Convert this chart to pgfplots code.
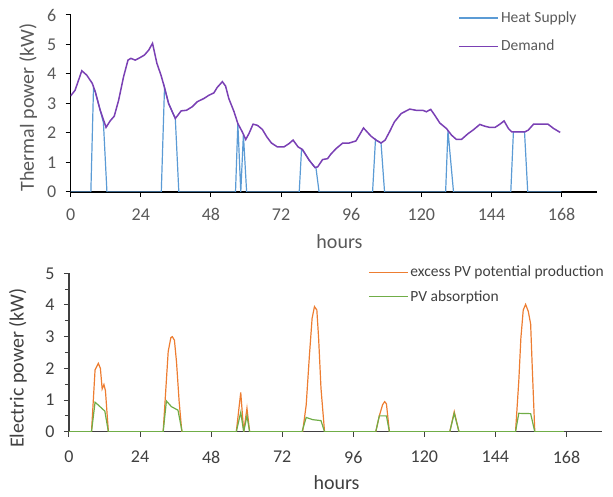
\documentclass[border=0pt]{standalone}
\usepackage{fontspec}
\setmainfont{Carlito}
\usepackage{pgfplots}
\pgfplotsset{compat=1.18}
\definecolor{heatblue}{RGB}{91,155,213}
\definecolor{dempurple}{RGB}{122,64,180}
\definecolor{pvorange}{RGB}{237,125,49}
\definecolor{pvgreen}{RGB}{112,173,71}
\definecolor{txtgray}{RGB}{89,89,89}
\definecolor{txtdark}{RGB}{64,64,64}
\pgfplotsset{
  common/.style={
    scale only axis, anchor=south west,
    axis lines*=left,
    tick align=outside,
    major tick length=5pt, minor tick length=4pt,
    /pgf/number format/assume math mode=true,
    legend cell align=left,
    legend image code/.code={\draw[##1] (0pt,0pt) -- (39pt,0pt);},
    yticklabel style={xshift=-6pt},
  }
}
\begin{document}
\begin{tikzpicture}[x=1pt,y=1pt]
\useasboundingbox (0,0) rectangle (613,496);
\begin{axis}[common,
  at={(70.7pt,304pt)},
  width=526pt, height=177pt,
  xmin=0, xmax=180, ymin=0, ymax=6,
  xtick={0,24,...,168}, ytick={0,1,...,6},
  axis line style={black, line width=1.2pt},
  tick style={black, line width=1pt},
  tick label style={font=\fontsize{18}{18}\selectfont, text=txtgray},
  xticklabel style={yshift=-8pt},
  xlabel={hours}, ylabel={Thermal power (kW)},
  label style={font=\fontsize{20}{20}\selectfont, text=txtgray},
  xlabel style={at={(axis description cs:0.511,-0.2825)}, anchor=center},
  ylabel style={at={(axis description cs:-0.081,0.477)}, anchor=center},
  legend style={at={(axis description cs:0.737,1.03)}, anchor=north west, draw=none, fill=none,
    font=\fontsize{15.5}{15.5}\selectfont, text=txtgray, row sep=12pt, inner sep=0pt},
]
\addplot[heatblue, line width=1.2pt] coordinates {
(0,0)(6.9,0)(7.8,3.52)(8.4,3.40)(10.1,2.77)(11.2,2.35)(12.4,0)
(31.0,0)(32.1,3.54)(33.5,3.0)(35.8,2.49)(37.0,0)
(56.4,0)(57.2,2.32)(58.2,0)(59.1,1.95)(60.2,0)
(78.2,0)(79.0,1.46)(79.3,1.44)(81.6,1.08)(83.6,0.83)(83.9,0.84)(85.0,0)
(103.3,0)(104.3,1.78)(104.5,1.76)(106.2,1.66)(107.4,0)
(128.3,0)(129.1,2.08)(131.0,0)
(150.6,0)(151.5,2.04)(153.2,2.04)(155.3,2.04)(156.4,0)(167.9,0)
};
\addlegendentry{Heat Supply}
\addplot[dempurple, line width=1.5pt] coordinates {
(0,3.26)(1.5,3.45)(3.8,4.11)(5.5,3.96)(7.4,3.68)(8.4,3.40)(10.1,2.77)(12.1,2.19)(13.5,2.41)(14.9,2.57)
(16.4,3.11)(18.1,3.91)(19.6,4.47)(20.6,4.53)(22.1,4.47)(23.8,4.56)(25.2,4.64)(26.7,4.81)(28.0,5.04)(29.5,4.36)
(30.9,3.96)(32.1,3.54)(33.5,3.0)(35.8,2.49)(37.8,2.75)(39.6,2.77)(41.6,2.89)(43.3,3.06)(45.6,3.17)(47.3,3.28)
(49.0,3.36)(50.1,3.54)(51.9,3.74)(53.0,3.59)(54.1,3.17)(55.9,2.72)(57.2,2.32)(58.7,2.04)(59.9,1.78)(61.0,1.98)
(62.4,2.30)(63.9,2.26)(65.6,2.12)(67.1,1.87)(68.7,1.66)(70.7,1.53)(73.0,1.53)(74.7,1.64)(76.1,1.76)(77.8,1.53)
(79.3,1.44)(81.6,1.08)(83.6,0.83)(84.5,0.85)(86.2,1.10)(87.9,1.13)(89.0,1.28)(90.8,1.47)(93.1,1.66)(95.3,1.66)
(97.6,1.73)(98.8,1.93)(100.2,2.17)(101.4,2.04)(102.8,1.89)(104.5,1.76)(106.2,1.66)(107.6,1.76)(109.1,2.04)(110.8,2.38)
(113.1,2.66)(116.0,2.81)(118.2,2.77)(120.5,2.77)(121.7,2.72)(123.2,2.80)(124.6,2.60)(126.3,2.34)(128.6,2.15)(130.3,1.93)
(132.0,1.78)(133.7,1.78)(136.0,1.98)(137.7,2.10)(140.0,2.29)(141.7,2.23)(143.4,2.19)(145.2,2.19)(146.9,2.30)(148.3,2.41)
(149.8,2.15)(150.9,2.04)(153.2,2.04)(155.5,2.04)(156.6,2.10)(158.4,2.30)(160.6,2.30)(163.3,2.30)(165.3,2.15)(167.5,2.02)
};
\addlegendentry{Demand}
\end{axis}
\begin{axis}[common,
  at={(69pt,64.3pt)},
  width=533pt, height=158.4pt,
  xmin=0, xmax=180, ymin=0, ymax=5,
  xtick={0,24,...,168}, ytick={0,1,...,5},
  minor ytick={0.5,1.5,...,4.5},
  axis line style={txtdark, line width=1.2pt},
  tick style={txtdark, line width=1pt},
  tick label style={font=\fontsize{18}{18}\selectfont, text=txtdark},
  xticklabel style={yshift=-11pt},
  xlabel={hours}, ylabel={Electric power (kW)},
  label style={font=\fontsize{20}{20}\selectfont, text=txtdark},
  xlabel style={at={(axis description cs:0.502,-0.324)}, anchor=center},
  ylabel style={at={(axis description cs:-0.0957,0.402)}, anchor=center},
  legend style={at={(axis description cs:0.561,1.06)}, anchor=north west, draw=none, fill=none,
    font=\fontsize{15.5}{15.5}\selectfont, text=txtdark, row sep=8pt, inner sep=0pt},
]
\addplot[pvorange, line width=1.2pt] coordinates {
(0,0)(7.6,0)(8.8,1.95)(9.9,2.16)(10.6,2.0)(11.2,1.35)(11.8,1.49)(12.3,1.3)(13.3,0)
(31.8,0)(33.5,2.53)(34.4,2.97)(34.9,3.0)(35.6,2.89)(36.3,2.21)(37.2,0.95)(38.1,0)
(56.5,0)(58.0,1.24)(59.0,0)(60.1,0.74)(61.0,0)
(78.9,0)(80.1,0.84)(81.2,2.42)(82.1,3.58)(82.9,3.95)(83.7,3.84)(84.3,2.95)(85.1,1.37)(86.3,0)
(103.6,0)(104.8,0.5)(105.9,0.85)(106.6,0.95)(107.2,0.88)(108.2,0)
(128.6,0)(130.1,0.63)(131.7,0)
(150.8,0)(151.9,1.6)(152.6,2.95)(153.4,3.84)(154.2,4.02)(155.1,3.8)(155.9,3.4)(156.5,1.9)(157.3,0)(167.1,0)
};
\addlegendentry{excess PV potential production}
\addplot[pvgreen, line width=1.2pt] coordinates {
(0,0)(7.6,0)(8.8,0.93)(9.9,0.84)(12.1,0.65)(13.3,0)
(31.8,0)(32.9,0.97)(34.6,0.79)(36.8,0.68)(38.2,0)
(56.5,0)(58.0,0.61)(59.0,0)(60.1,0.5)(61.0,0)
(78.7,0)(80.1,0.45)(82.3,0.38)(85.1,0.35)(86.3,0)
(103.6,0)(104.8,0.5)(107.2,0.5)(108.2,0)
(128.6,0)(130.1,0.58)(131.7,0)
(150.8,0)(151.9,0.58)(155.9,0.57)(157.3,0)(167.1,0)
};
\addlegendentry{PV absorption}
\end{axis}
\end{tikzpicture}
\end{document}
